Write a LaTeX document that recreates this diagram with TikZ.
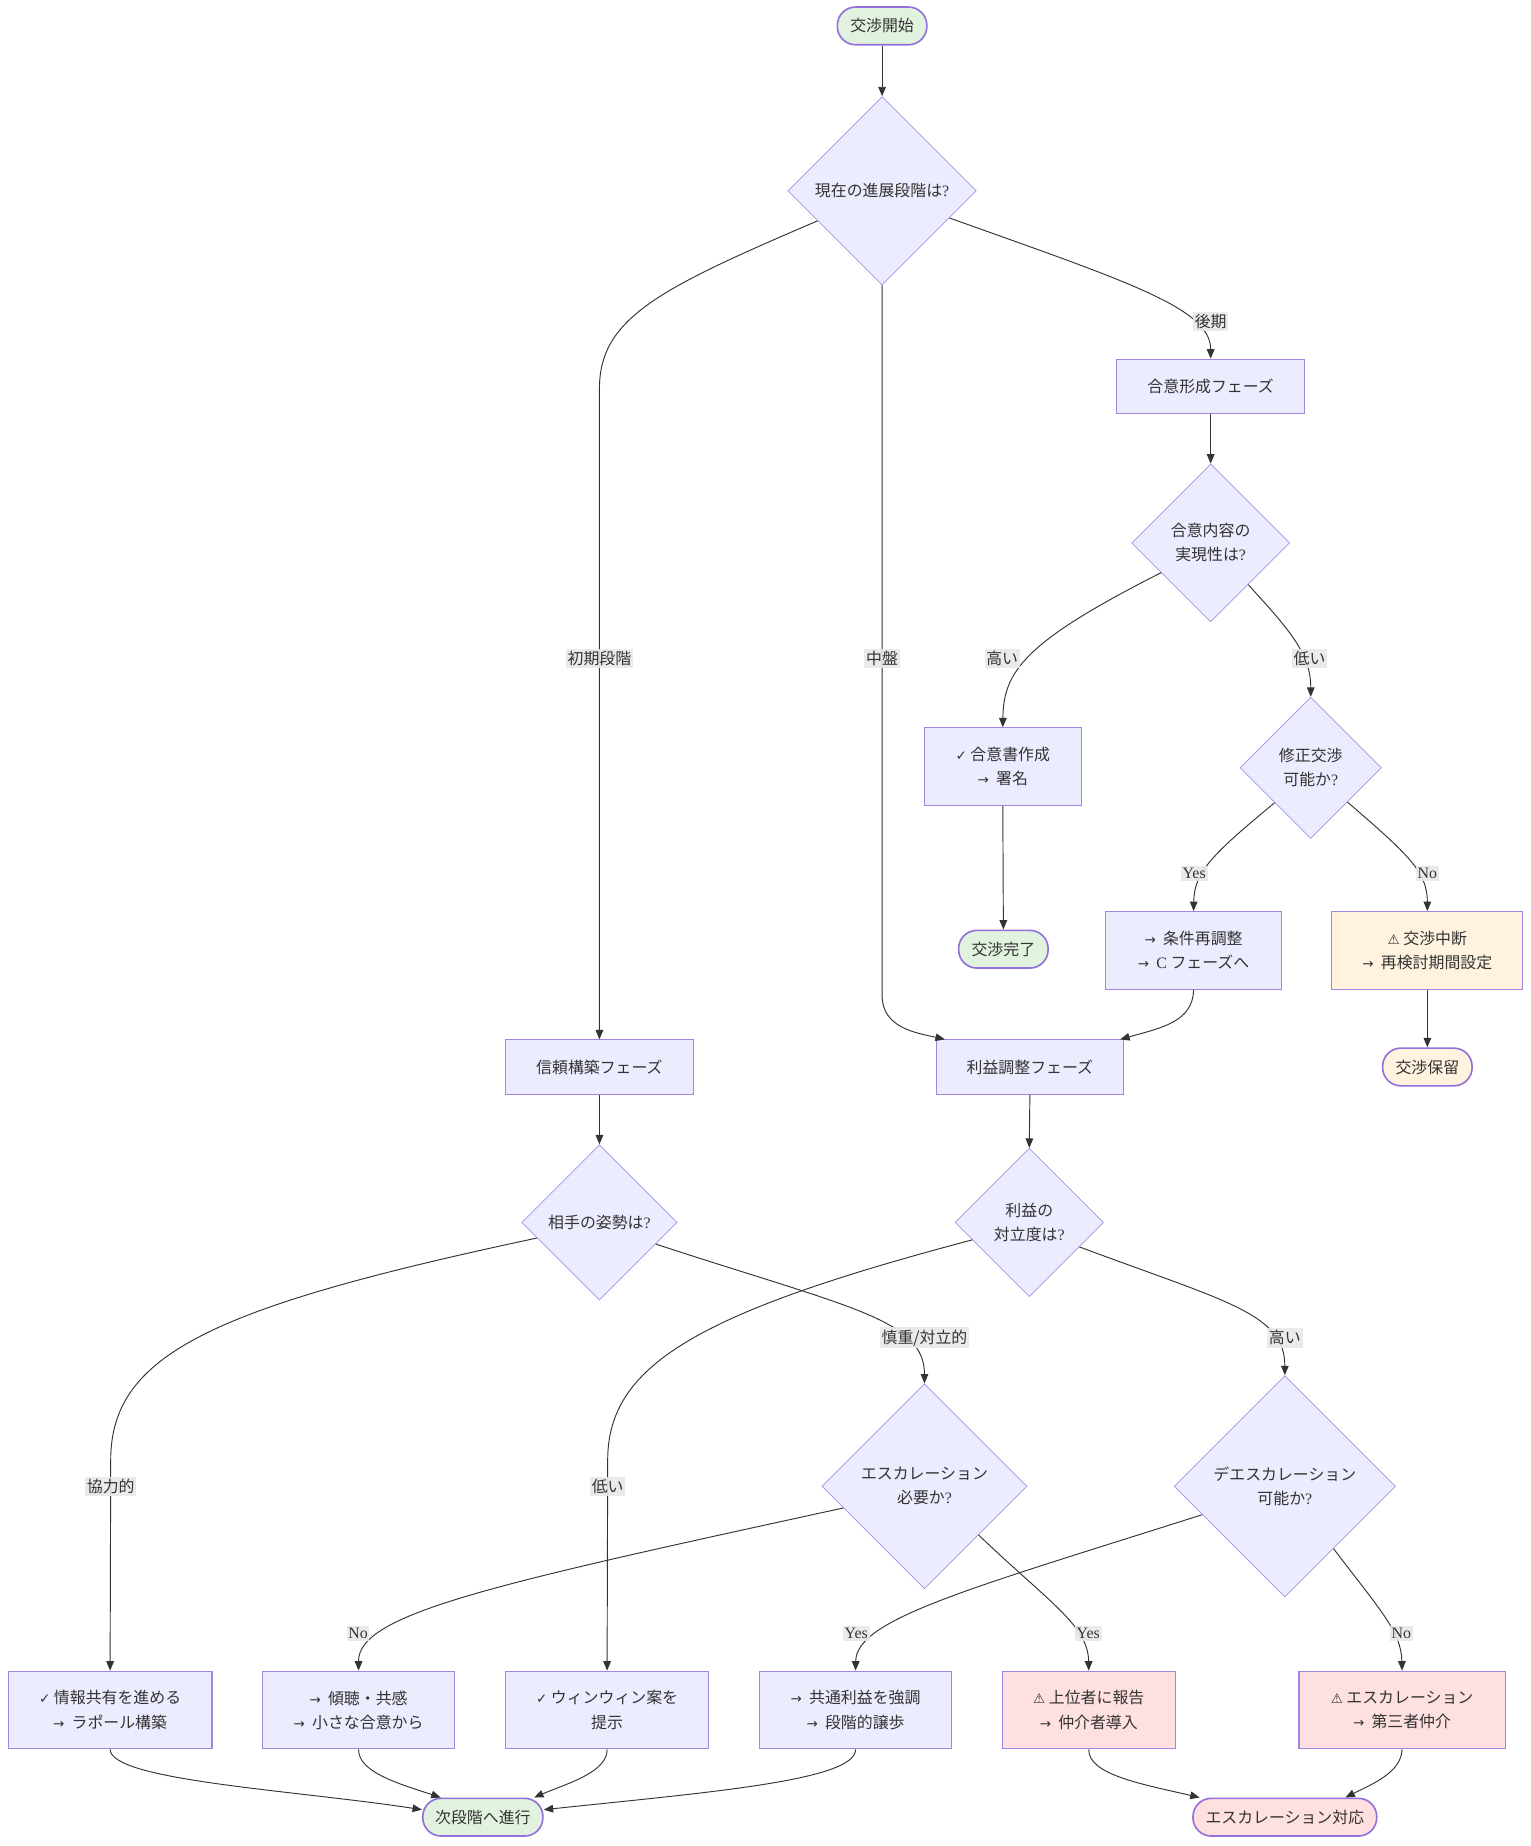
\documentclass[tikz,border=0pt]{standalone}
\usepackage{fontspec}
\setmainfont{Liberation Serif}
\newfontfamily\cjk{Noto Sans CJK JP}
\newfontfamily\symf{DejaVu Sans}[Scale=0.85]
\usetikzlibrary{shapes.geometric,arrows.meta}
\definecolor{boxfill}{HTML}{ECECFF}
\definecolor{pstroke}{HTML}{9370DB}
\definecolor{dstroke}{HTML}{A593E0}
\definecolor{txt}{HTML}{333333}
\definecolor{edgec}{HTML}{333333}
\definecolor{gfill}{HTML}{E1F3DF}
\definecolor{ofill}{HTML}{FFF3E0}
\definecolor{rfill}{HTML}{FFE0E0}
\definecolor{lblfill}{HTML}{E8E8E8}
\newcommand\ChkM{{\symf ✓}}
\newcommand\ArrM{{\symf →}}
\newcommand\WarnM{{\symf ⚠}}
\newcommand\Qm{{\rmfamily ?}}
\tikzset{
  base/.style={font=\cjk\fontsize{13.5}{20.5}\selectfont, align=center, inner sep=0pt, draw=pstroke, text=txt},
  box/.style={base, rectangle, fill=boxfill, line width=0.9pt, draw=pstroke!85!white},
  dia/.style={base, diamond, fill=boxfill, line width=0.6pt, draw=dstroke, minimum width=#1, minimum height=#1},
  stad/.style={base, rectangle, rounded corners=15.5pt, line width=1.4pt, minimum height=32pt},
  arr/.style={draw=edgec, line width=0.8pt, -{Triangle[length=8pt,width=6.5pt]}},
  lbl/.style={font=\cjk\fontsize{13.5}{16}\selectfont, fill=lblfill, fill opacity=0.9, text opacity=1, text=txt, inner xsep=1.5pt, inner ysep=2pt},
}
\begin{document}
\begin{tikzpicture}[x=1pt,y=-1pt]
\useasboundingbox (0,0) rectangle (1300,1567.5);

% nodes
\node[stad, fill=gfill, minimum width=76pt] (st) at (749,22) {交渉開始};
\node[dia=160pt] (d1) at (749,162) {現在の進展段階は\Qm};
\node[box, minimum width=160pt, minimum height=46pt] (m1) at (1028,328) {合意形成フェーズ};
\node[dia=134pt] (d2) at (1028,461) {合意内容の\\実現性は\Qm};
\node[box, minimum width=133pt, minimum height=66pt] (a1) at (851.5,651) {\ChkM\ 合意書作成\\\ArrM\ \ 署名};
\node[dia=120pt] (d3) at (1113,652) {修正交渉\\可能か\Qm};
\node[stad, fill=gfill, minimum width=76pt] (fin) at (852,806) {交渉完了};
\node[box, minimum width=149pt, minimum height=66pt] (c1) at (1013.5,807) {\ArrM\ \ 条件再調整\\\ArrM\ \ {\rmfamily C} フェーズへ};
\node[box, fill=ofill, minimum width=162pt, minimum height=66pt] (h1) at (1212,807) {\WarnM\ 交渉中断\\\ArrM\ \ 再検討期間設定};
\node[stad, fill=ofill, minimum width=76pt] (hold) at (1212,906) {交渉保留};
\node[box, minimum width=160pt, minimum height=46pt] (s1) at (509,906) {信頼構築フェーズ};
\node[box, minimum width=159pt, minimum height=46pt] (p3) at (874.5,906) {利益調整フェーズ};
\node[dia=132pt] (d4) at (509,1038) {相手の姿勢は\Qm};
\node[dia=126pt] (d5) at (874,1038) {利益の\\対立度は\Qm};
\node[dia=174pt] (d6) at (785,1262) {エスカレーション\\必要か\Qm};
\node[dia=188pt] (d7) at (1091,1262) {デエスカレーション\\可能か\Qm};
\node[box, minimum width=173pt, minimum height=66pt] (i1) at (93.5,1452) {\ChkM\ 情報共有を進める\\\ArrM\ \ ラポール構築};
\node[box, minimum width=163pt, minimum height=66pt] (k1) at (304.5,1452) {\ArrM\ \ 傾聴・共感\\\ArrM\ \ 小さな合意から};
\node[box, minimum width=173pt, minimum height=66pt] (w1) at (515.5,1452) {\ChkM\ ウィンウィン案を\\提示};
\node[box, minimum width=163pt, minimum height=66pt] (cm) at (726.5,1452) {\ArrM\ \ 共通利益を強調\\\ArrM\ \ 段階的譲歩};
\node[box, fill=rfill, minimum width=147pt, minimum height=66pt] (up) at (924.5,1452) {\WarnM\ 上位者に報告\\\ArrM\ \ 仲介者導入};
\node[box, fill=rfill, minimum width=175pt, minimum height=66pt] (th) at (1190.5,1452) {\WarnM\ エスカレーション\\\ArrM\ \ 第三者仲介};
\node[stad, fill=gfill, minimum width=102pt] (nx) at (410,1543) {次段階へ進行};
\node[stad, fill=rfill, minimum width=156pt] (es) at (1091,1543) {エスカレーション対応};

% edges
\draw[arr] (st.south) -- (d1.north);
\draw[arr] (d1.205) .. controls (560,245) and (509,270) .. (509,330) -- (s1.north);
\draw[arr] (d1.south) -- (749,845) .. controls (749,873) and (778,877) .. (p3.162.8);
\draw[arr] (d1.338) .. controls (960,240) and (1028,262) .. (m1.north);
\draw[arr] (m1.south) -- (d2.north);
\draw[arr] (d2.211) .. controls (870,545) and (852,570) .. (a1.north);
\draw[arr] (d2.312) .. controls (1095,535) and (1113,555) .. (d3.north);
\draw[arr] (a1.south) -- (fin.north);
\draw[arr] (d3.224) .. controls (1030,725) and (1014,740) .. (c1.north);
\draw[arr] (d3.317) .. controls (1195,725) and (1212,740) .. (h1.north);
\draw[arr] (h1.south) -- (hold.north);
\draw[arr] (c1.south) .. controls (1013,868) and (985,873) .. (p3.17.4);
\draw[arr] (s1.south) -- (d4.north);
\draw[arr] (p3.south) -- (d5.north);
\draw[arr] (d4.194.5) .. controls (180,1110) and (94,1150) .. (94,1240) -- (i1.north);
\draw[arr] (d4.339) .. controls (720,1110) and (785,1120) .. (d6.north);
\draw[arr] (d5.197) .. controls (590,1115) and (516,1160) .. (516,1240) -- (w1.north);
\draw[arr] (d5.334) .. controls (1040,1105) and (1091,1115) .. (d7.north);
\draw[arr] (d6.195) .. controls (420,1345) and (304,1370) .. (k1.north);
\draw[arr] (d6.318) .. controls (890,1360) and (924,1380) .. (up.north);
\draw[arr] (d7.199) .. controls (820,1350) and (727,1375) .. (cm.north);
\draw[arr] (d7.308) .. controls (1170,1365) and (1190,1385) .. (th.north);
\draw[arr] (i1.south) .. controls (94,1512) and (250,1520) .. (nx.173);
\draw[arr] (k1.south) .. controls (304,1505) and (340,1515) .. (nx.155);
\draw[arr] (w1.south) .. controls (516,1505) and (480,1515) .. (nx.21.5);
\draw[arr] (cm.south) .. controls (727,1512) and (600,1522) .. (nx.7);
\draw[arr] (up.south) .. controls (924,1507) and (970,1515) .. (es.167);
\draw[arr] (th.south) .. controls (1190,1505) and (1165,1515) .. (es.18);

% labels
\node[lbl] (l1) at (509,559) {初期段階};
\node[lbl] (l2) at (749,559) {中盤};
\node[lbl] (l3) at (1028,273) {後期};
\node[lbl] (l4) at (851,559) {高い};
\node[lbl] (l5) at (1112,559) {低い};
\node[lbl] (l6) at (1014,742) {\rmfamily Yes};
\node[lbl] (l7) at (1212,742) {\rmfamily No};
\node[lbl] (l8) at (94,1262) {協力的};
\node[lbl] (l9) at (785,1136) {慎重/対立的};
\node[lbl] (l10) at (516,1262) {低い};
\node[lbl] (l11) at (1091,1136) {高い};
\node[lbl] (l12) at (304,1387) {\rmfamily No};
\node[lbl] (l13) at (924,1387) {\rmfamily Yes};
\node[lbl] (l14) at (727,1387) {\rmfamily Yes};
\node[lbl] (l15) at (1190,1387) {\rmfamily No};
\end{tikzpicture}
\end{document}
